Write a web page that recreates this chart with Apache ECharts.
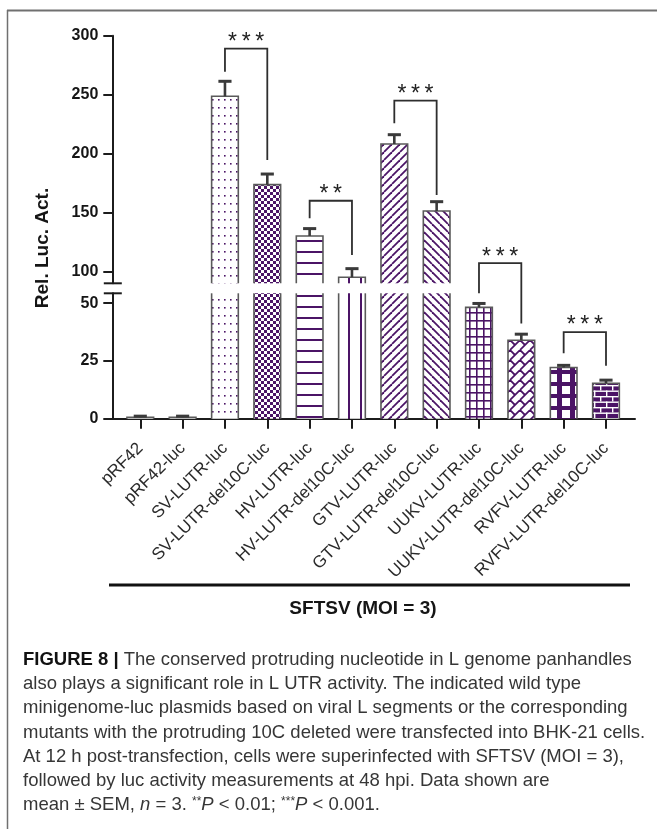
<!DOCTYPE html>
<html><head><meta charset="utf-8">
<script src="https://cdn.jsdelivr.net/npm/echarts@6/dist/echarts.min.js"></script>
<style>html,body{margin:0;padding:0;background:#fff}#c{width:657px;height:829px}</style>
</head><body><div id="c"></div>
<script>
// ---------------- data ----------------
const categories = ['pRF42','pRF42-luc','SV-LUTR-luc','SV-LUTR-del10C-luc','HV-LUTR-luc','HV-LUTR-del10C-luc','GTV-LUTR-luc','GTV-LUTR-del10C-luc','UUKV-LUTR-luc','UUKV-LUTR-del10C-luc','RVFV-LUTR-luc','RVFV-LUTR-del10C-luc'];
const means = [0.6, 0.6, 248.7, 173.9, 130.5, 95.5, 208.3, 151.6, 48.2, 34.0, 22.2, 15.3];
const sems  = [0.5, 0.5, 12.7, 9.0, 6.2, 7.3, 7.9, 7.9, 1.7, 2.6, 0.9, 1.4];
const patternNames = ['none','none','dots','check','hlines','vlines','diagUp','diagDown','grid','weave','bigcross','brick'];
const upperTicks = [100, 150, 200, 250, 300];
const lowerTicks = [0, 25, 50];
const upperRange = [90.4, 300];
const lowerRange = [0, 54.3];
const tickIdx = categories.map((c, i) => i);
// significance brackets: left bar, right bar, bracket level, left leg end, right leg end, label
const brackets = [
  [2, 3, 289.0, 269.5, 194.8, '***'],
  [4, 5, 160.3, 145.5, 114.4, '**'],
  [6, 7, 245.0, 225.9, 165.2, '***'],
  [8, 9, 107.4, 54.3, 41.2, '***'],
  [10, 11, 37.5, 28.3, 22.9, '***']
];
const xLabelTitle = 'SFTSV (MOI = 3)';
const yTitle = 'Rel. Luc. Act.';
const captionLines = [
  '{b|FIGURE 8 | }The conserved protruding nucleotide in L genome panhandles',
  'also plays a significant role in L UTR activity. The indicated wild type',
  'minigenome-luc plasmids based on viral L segments or the corresponding',
  'mutants with the protruding 10C deleted were transfected into BHK-21 cells.',
  'At 12 h post-transfection, cells were superinfected with SFTSV (MOI = 3),',
  'followed by luc activity measurements at 48 hpi. Data shown are',
  'mean \u00b1 SEM, {i|n} = 3. {s|**}{i|P} < 0.01; {s|***}{i|P} < 0.001.'
];

// ---------------- styles ----------------
const PURPLE = '#4b1466';
const BORDER = '#5a5a5a';
const AXIS = '#1c1c1c';
function tile(w, h, draw) {
  const c = document.createElement('canvas');
  c.width = w; c.height = h;
  const g = c.getContext('2d');
  g.fillStyle = '#fff'; g.fillRect(0, 0, w, h);
  g.fillStyle = PURPLE; g.strokeStyle = PURPLE;
  draw(g, w, h);
  return { image: c, repeat: 'repeat' };
}
const patterns = {
  none: '#ffffff',
  dots: tile(6, 8, g => { g.fillRect(2, 3, 1.6, 1.6); }),
  check: tile(6, 6, g => { g.fillRect(0, 0, 3, 3); g.fillRect(3, 3, 3, 3); }),
  hlines: tile(4, 11, g => { g.fillRect(0, 9, 4, 2); }),
  vlines: tile(12, 4, g => { g.fillRect(0, 0, 2, 4); }),
  diagUp: tile(8, 8, g => { g.lineWidth = 1.8; [-8, 0, 8].forEach(o => { g.beginPath(); g.moveTo(o, 8); g.lineTo(o + 8, 0); g.stroke(); }); }),
  diagDown: tile(8, 8, g => { g.lineWidth = 1.8; [-8, 0, 8].forEach(o => { g.beginPath(); g.moveTo(o, 0); g.lineTo(o + 8, 8); g.stroke(); }); }),
  grid: tile(7, 8, g => { g.fillRect(0, 0, 7, 1.6); g.fillRect(0, 0, 1.6, 8); }),
  weave: tile(10, 10, g => { g.lineWidth = 1.8; [-10, 0, 10].forEach(o => { g.beginPath(); g.moveTo(o, 10); g.lineTo(o + 10, 0); g.stroke(); }); g.beginPath(); g.moveTo(0, 0); g.lineTo(5, 5); g.stroke(); g.beginPath(); g.moveTo(10, 10); g.lineTo(12, 12); g.stroke(); }),
  bigcross: tile(13, 12, g => { g.fillRect(0, 0, 13, 12); g.fillStyle = '#fff'; g.fillRect(3, 2, 8, 8); }),
  brick: tile(12, 11, g => { g.fillRect(0, 0, 12, 11); g.fillStyle = '#fff'; g.fillRect(0, 0, 12, 1.4); g.fillRect(0, 5.5, 12, 1.4); g.fillRect(0, 0, 1.4, 5.5); g.fillRect(6, 5.5, 1.4, 5.5); })
};

// ---------------- chart ----------------
const chart = echarts.init(document.getElementById('c'), null, { renderer: 'canvas' });
const barData = means.map((v, i) => [i, v, sems[i]]);

function renderBar(params, api) {
  const x = api.value(0), v = api.value(1), e = api.value(2);
  const cs = params.coordSys;
  const unit = api.size([1, 0])[0];
  const w = unit * 0.63;
  const top = api.coord([x, v]);
  const base = api.coord([x, 0]);
  const yTop = Math.max(top[1], cs.y);
  const yBot = Math.min(base[1], cs.y + cs.height);
  if (yTop >= yBot) return null;
  const xl = top[0] - w / 2, xr = top[0] + w / 2;
  const topInside = top[1] >= cs.y && top[1] <= cs.y + cs.height;
  const children = [
    { type: 'rect', shape: { x: xl, y: yTop, width: w, height: yBot - yTop }, style: { fill: patterns[patternNames[x]] } }
  ];
  if (topInside) {
    children.push({ type: 'polyline', shape: { points: [[xl, yBot], [xl, yTop], [xr, yTop], [xr, yBot]] }, style: { stroke: BORDER, lineWidth: 1.6, fill: null } });
    const eTop = api.coord([x, v + e])[1];
    const capW = unit * 0.31;
    children.push({ type: 'line', shape: { x1: top[0], y1: yTop, x2: top[0], y2: eTop }, style: { stroke: '#3a3a3a', lineWidth: 2.6 } });
    children.push({ type: 'line', shape: { x1: top[0] - capW / 2, y1: eTop, x2: top[0] + capW / 2, y2: eTop }, style: { stroke: '#3a3a3a', lineWidth: 3 } });
  } else {
    children.push({ type: 'line', shape: { x1: xl, y1: yTop, x2: xl, y2: yBot }, style: { stroke: BORDER, lineWidth: 1.6 } });
    children.push({ type: 'line', shape: { x1: xr, y1: yTop, x2: xr, y2: yBot }, style: { stroke: BORDER, lineWidth: 1.6 } });
  }
  return { type: 'group', children };
}

const commonX = { type: 'value', min: -0.661, max: 11.685, splitLine: { show: false } };
const tickLabelStyle = { fontFamily: 'Liberation Sans', fontWeight: 'bold', fontSize: 16, color: '#151515', margin: 14 };

chart.setOption({
  animation: false,
  backgroundColor: '#ffffff',
  grid: [
    { left: 112.3, top: 35.7, width: 522.7, height: 247.6 },
    { left: 112.3, top: 293.3, width: 522.7, height: 125.4 }
  ],
  xAxis: [
    Object.assign({ gridIndex: 0, show: false }, commonX),
    Object.assign({ gridIndex: 1,
      axisLine: { onZero: false, lineStyle: { color: AXIS, width: 2 } },
      axisTick: { customValues: tickIdx, length: 10, lineStyle: { color: AXIS, width: 2 } },
      axisLabel: { customValues: tickIdx, formatter: v => categories[Math.round(v)], rotate: 45, fontFamily: 'Liberation Sans', fontSize: 17, color: '#2b2b2b', margin: 27 }
    }, commonX)
  ],
  yAxis: [
    { type: 'value', gridIndex: 0, min: upperRange[0], max: upperRange[1], splitLine: { show: false },
      axisLine: { show: true, onZero: false, lineStyle: { color: AXIS, width: 2 } },
      axisTick: { show: true, customValues: upperTicks, length: 9, lineStyle: { color: AXIS, width: 2 } },
      axisLabel: Object.assign({ customValues: upperTicks }, tickLabelStyle) },
    { type: 'value', gridIndex: 1, min: lowerRange[0], max: lowerRange[1], splitLine: { show: false },
      axisLine: { show: true, onZero: false, lineStyle: { color: AXIS, width: 2 } },
      axisTick: { show: true, customValues: lowerTicks, length: 9, lineStyle: { color: AXIS, width: 2 } },
      axisLabel: Object.assign({ customValues: lowerTicks }, tickLabelStyle) }
  ],
  series: [
    { type: 'custom', xAxisIndex: 0, yAxisIndex: 0, data: barData, renderItem: renderBar, clip: false, encode: { x: 0, y: 1 } },
    { type: 'custom', xAxisIndex: 1, yAxisIndex: 1, data: barData, renderItem: renderBar, clip: false, encode: { x: 0, y: 1 } }
  ]
});

// ---------------- annotations ----------------
function px(x, v) {
  return chart.convertToPixel({ gridIndex: v > 70 ? 0 : 1 }, [x, v]);
}
const g = [];
brackets.forEach(([a, b, lvl, la, lb, lab]) => {
  const p1 = px(a, la), p2 = px(a, lvl), p3 = px(b, lvl), p4 = px(b, lb);
  g.push({ type: 'polyline', shape: { points: [p1, p2, p3, p4] }, style: { stroke: '#2e2e2e', lineWidth: 1.8, fill: null } });
  g.push({ type: 'text', x: (p2[0] + p3[0]) / 2, y: p2[1] - 6, style: { text: lab.split('').join('\u2009'), font: '23px "Liberation Sans"', fill: '#222', textAlign: 'center', textVerticalAlign: 'middle' } });
});
// axis break marks
const ub = chart.convertToPixel({ gridIndex: 0 }, [commonX.min, upperRange[0]]);
const lt = chart.convertToPixel({ gridIndex: 1 }, [commonX.min, lowerRange[1]]);
[ub, lt].forEach(p => g.push({ type: 'line', shape: { x1: p[0] - 8.5, y1: p[1], x2: p[0] + 9.5, y2: p[1] }, style: { stroke: AXIS, lineWidth: 2 } }));
// y title
g.push({ type: 'text', x: 43, y: 248, rotation: Math.PI / 2, style: { text: yTitle, font: 'bold 19px "Liberation Sans"', fill: '#151515', textAlign: 'center', textVerticalAlign: 'middle' } });
// group line and label
g.push({ type: 'line', shape: { x1: 109, y1: 585, x2: 630, y2: 585 }, style: { stroke: '#111', lineWidth: 3 } });
g.push({ type: 'text', x: 363, y: 609, style: { text: xLabelTitle, font: 'bold 19px "Liberation Sans"', fill: '#151515', textAlign: 'center', textVerticalAlign: 'middle' } });
// frame
g.push({ type: 'line', shape: { x1: 7, y1: 10.5, x2: 657, y2: 10.5 }, style: { stroke: '#707070', lineWidth: 2 } });
g.push({ type: 'line', shape: { x1: 7.5, y1: 10, x2: 7.5, y2: 829 }, style: { stroke: '#707070', lineWidth: 1.5 } });
// caption
const CF = 18.5;
captionLines.forEach((t, k) => {
  g.push({ type: 'text', x: 23, y: 660 + k * 24.2, style: { text: t, font: CF + 'px "Liberation Sans"', fill: '#363636', textAlign: 'left', textVerticalAlign: 'middle',
    rich: { b: { fontWeight: 'bold', fontSize: CF, fontFamily: 'Liberation Sans', fill: '#111' }, i: { fontStyle: 'italic', fontSize: CF, fontFamily: 'Liberation Sans', fill: '#363636' }, s: { fontSize: 12, fontFamily: 'Liberation Sans', fill: '#363636', verticalAlign: 'top' } } } });
});
chart.setOption({ graphic: g });
</script></body></html>
